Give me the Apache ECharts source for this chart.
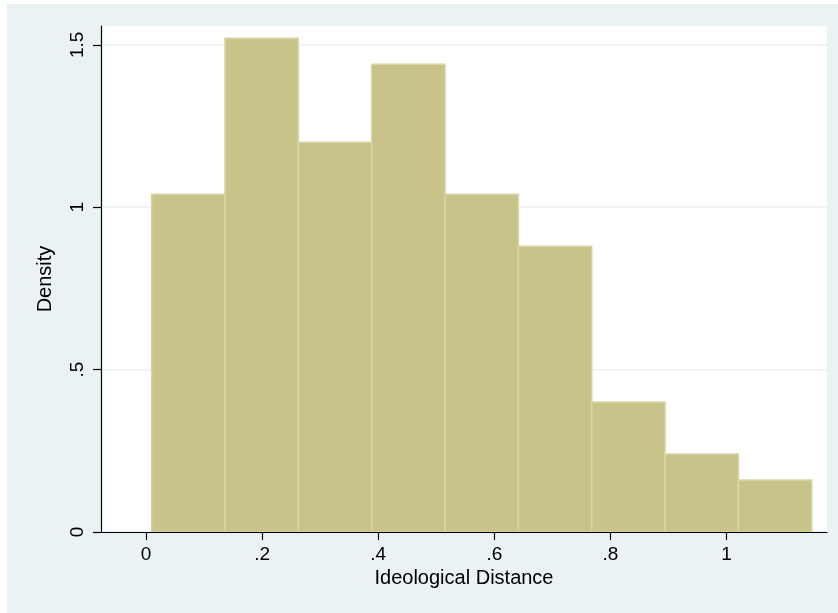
<!DOCTYPE html>
<html>
<head>
<meta charset="utf-8">
<script src="https://cdn.jsdelivr.net/npm/echarts@6/dist/echarts.min.js"></script>
<style>
html,body{margin:0;padding:0;background:#ffffff;}
#wrap{position:absolute;left:7px;top:4px;width:831px;height:609px;background:#eaf2f3;}
#c{position:absolute;left:0;top:0;width:838px;height:613px;}
</style>
</head>
<body>
<div id="wrap"></div>
<div id="c"></div>
<script>
const binStart = [0.0098, 0.1361, 0.2624, 0.3887, 0.5150, 0.6413, 0.7676, 0.8939, 1.0202];
const binEnd   = [0.1361, 0.2624, 0.3887, 0.5150, 0.6413, 0.7676, 0.8939, 1.0202, 1.1465];
const density  = [1.04, 1.52, 1.20, 1.44, 1.04, 0.88, 0.40, 0.24, 0.16];
const xTicks = [0, 0.2, 0.4, 0.6, 0.8, 1];
const xTickLabels = ['0', '.2', '.4', '.6', '.8', '1'];
const yTicks = [0, 0.5, 1, 1.5];
const yTickLabels = ['0', '.5', '1', '1.5'];

const font = '"Liberation Sans", Arial, Helvetica, sans-serif';
const chart = echarts.init(document.getElementById('c'), null, {renderer: 'canvas'});
const data = binStart.map((s, i) => [s, binEnd[i], density[i]]);

chart.setOption({
  backgroundColor: 'transparent',
  animation: false,
  grid: {left: 101, top: 26, right: 11, bottom: 81, show: true, backgroundColor: '#ffffff', borderWidth: 0},
  xAxis: {
    type: 'value', min: -0.0774, max: 1.1728,
    name: 'Ideological Distance', nameLocation: 'middle', nameGap: 35,
    nameTextStyle: {color: '#000', fontSize: 20, fontFamily: font},
    axisLine: {show: true, onZero: false, lineStyle: {color: '#000', width: 1.2}},
    axisTick: {show: true, length: 8, customValues: xTicks, lineStyle: {color: '#000', width: 1.2}},
    axisLabel: {show: true, customValues: xTicks, margin: 13, color: '#000', fontSize: 19, fontFamily: font,
      formatter: v => { const i = xTicks.findIndex(t => Math.abs(t - v) < 1e-9); return i >= 0 ? xTickLabels[i] : ''; }},
    splitLine: {show: false}
  },
  yAxis: {
    type: 'value', min: 0, max: 1.558,
    name: 'Density', nameLocation: 'middle', nameGap: 46, nameRotate: 90,
    nameTextStyle: {color: '#000', fontSize: 20, fontFamily: font},
    axisLine: {show: true, onZero: false, lineStyle: {color: '#000', width: 1.2}},
    axisTick: {show: true, length: 8, customValues: yTicks, lineStyle: {color: '#000', width: 1.2}},
    axisLabel: {show: true, customValues: yTicks, rotate: 90, margin: 14, color: '#000', fontSize: 19, fontFamily: font,
      formatter: v => { const i = yTicks.findIndex(t => Math.abs(t - v) < 1e-9); return i >= 0 ? yTickLabels[i] : ''; }},
    splitLine: {show: true, customValues: yTicks, lineStyle: {color: '#eaf2f3', width: 1.5}}
  },
  series: [{
    type: 'custom',
    data: data,
    encode: {x: [0, 1], y: 2},
    clip: true,
    renderItem: function (params, api) {
      const p0 = api.coord([api.value(0), 0]);
      const p1 = api.coord([api.value(1), api.value(2)]);
      return {
        type: 'rect',
        shape: {x: p0[0], y: p1[1], width: p1[0] - p0[0], height: p0[1] - p1[1]},
        style: {fill: '#c8c388', stroke: '#d8d4a6', lineWidth: 1.6}
      };
    }
  }]
});
</script>
</body>
</html>
